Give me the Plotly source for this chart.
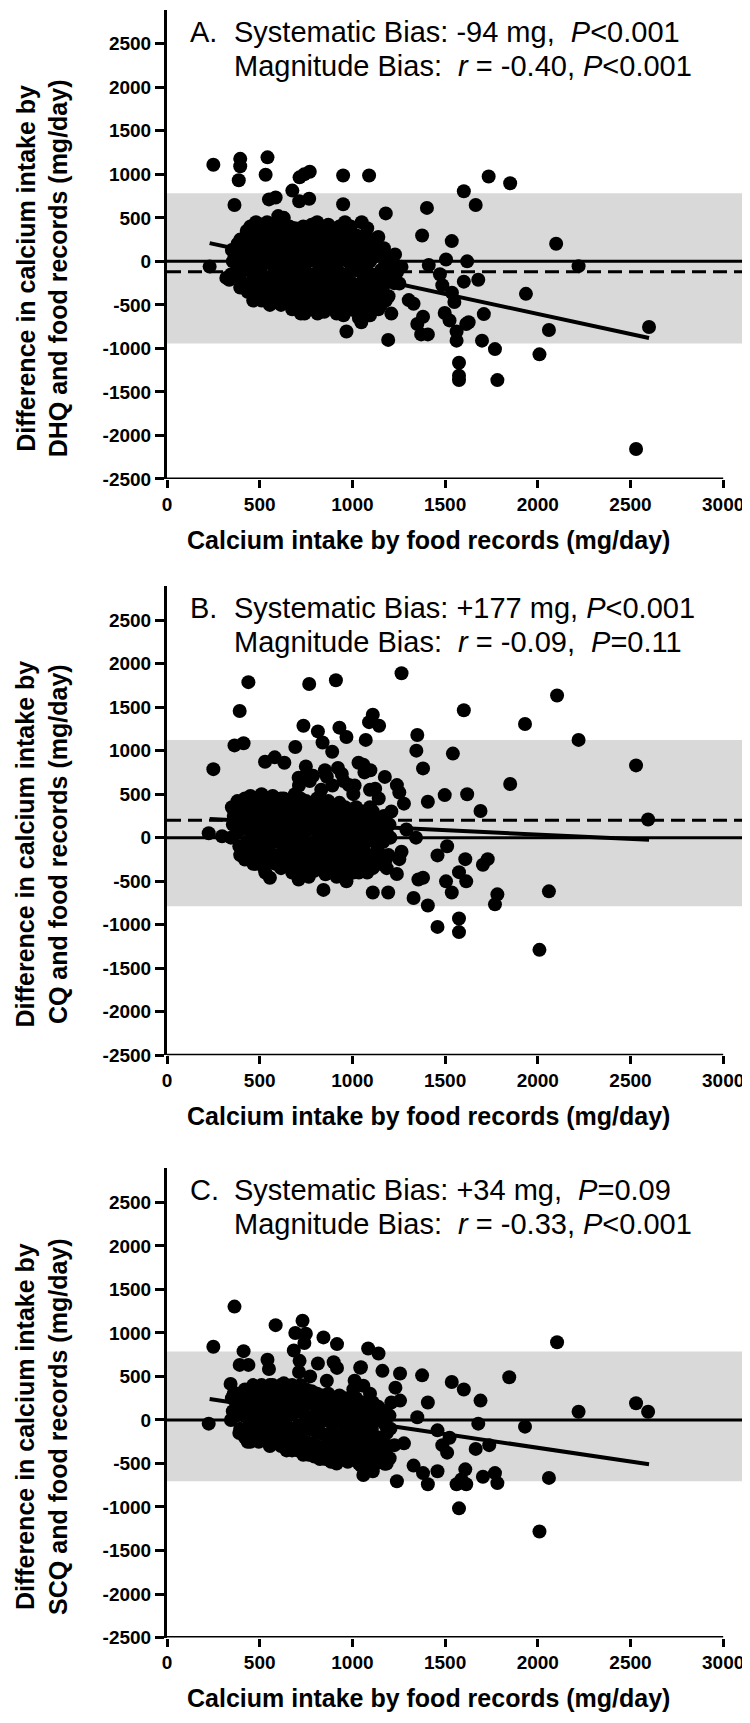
import plotly.graph_objects as go

# ---------------- data ----------------
x_ticks = [0, 500, 1000, 1500, 2000, 2500, 3000]
y_ticks = [-2500, -2000, -1500, -1000, -500, 0, 500, 1000, 1500, 2000, 2500]

panel_letters = ["A.", "B.", "C."]
line1_texts = ["Systematic Bias: -94 mg,\u00a0\u00a0<i>P</i>&lt;0.001",
               "Systematic Bias: +177 mg, <i>P</i>&lt;0.001",
               "Systematic Bias: +34 mg,\u00a0\u00a0<i>P</i>=0.09"]
line2_texts = ["Magnitude Bias:\u00a0 <i>r</i> = -0.40, <i>P</i>&lt;0.001",
               "Magnitude Bias:\u00a0 <i>r</i> = -0.09,\u00a0\u00a0<i>P</i>=0.11",
               "Magnitude Bias:\u00a0 <i>r</i> = -0.33, <i>P</i>&lt;0.001"]
y_titles = ["Difference in calcium intake by<br>DHQ and food records (mg/day)",
            "Difference in calcium intake by<br>CQ and food records (mg/day)",
            "Difference in calcium intake by<br>SCQ and food records (mg/day)"]
x_title = "Calcium intake by food records (mg/day)"

# limits of agreement (band), mean difference (dashed), regression line ends
band_low = [-945, -787, -705]
band_high = [784, 1123, 786]
mean_diff = [-120, 200, None]
reg_x = [[230, 2600], [230, 2600], [230, 2600]]
reg_y = [[210, -880], [215, -25], [240, -510]]

A_points = [
    (250, 1110), (395, 1178), (395, 1093), (387, 932), (364, 648), (542, 1195), (532, 996),
    (550, 712), (586, 733), (676, 813), (740, 1000), (770, 1030), (715, 965), (713, 690),
    (767, 720), (950, 987), (1090, 987), (950, 657), (1180, 551), (968, -805), (1193, -902),
    (1330, -487), (1350, -720), (1371, -839), (1407, -839), (1381, -636), (1402, 614),
    (1376, 297), (1412, -42), (1505, 21), (1536, 233), (1601, 805), (1665, 648), (1735, 975),
    (1851, 898), (2099, 203), (2220, -55), (1936, -373), (2060, -788), (2009, -1068),
    (1769, -1008), (1782, -1364), (1575, -1165), (1575, -1313), (1575, -1364), (1562, -911),
    (1699, -911), (1709, -606), (1614, -720), (1627, -699), (1601, -233), (1619, 0),
    (1679, -212), (1550, -466), (1537, -360), (1485, -275), (1472, -148), (1498, -593),
    (1524, -678), (1562, -805), (2600, -754), (2530, -2155), (1240, -127), (1253, -254),
    (1304, -445), (1265, -63), (1200, 0), (1227, -42), (230, -60), (320, -190), (336, -212),
    (350, 130), (355, 0), (345, -150), (365, 60),
    (380, 200), (385, -50), (375, 100), (390, -180),
    (420, 250), (415, 50), (425, -100), (430, 350), (410, -250), (435, 150),
    (450, 400), (455, 300), (445, 100), (460, -50), (450, -300), (465, -200), (440, 200),
    (480, 450), (485, 250), (475, 0), (490, -150), (480, -350), (495, -400), (470, 120),
    (510, 350), (515, 180), (505, -80), (520, -250), (510, -450), (500, 60), (525, 280),
    (540, 450), (545, 200), (535, -20), (550, -300), (540, -400), (555, 100), (530, 320), (548, -180),
    (570, 400), (575, 250), (565, 50), (580, -150), (570, -350), (585, -450), (560, 150), (578, -60),
    (600, 520), (605, 300), (595, 100), (610, -100), (600, -300), (615, -500), (590, 200), (608, -220), (602, 0),
    (630, 500), (635, 350), (625, 150), (640, -50), (630, -250), (645, -420), (620, 60), (638, -320),
    (660, 400), (665, 250), (655, 0), (670, -200), (660, -400), (675, -550), (650, 120), (668, -120),
    (690, 380), (695, 180), (685, -50), (700, -280), (690, -450), (705, 300), (680, -180), (698, 60),
    (720, 350), (725, 220), (715, 0), (730, -200), (720, -350), (735, -520), (710, 120), (728, -100), (722, -600),
    (750, 300), (755, 100), (745, -100), (760, -300), (750, -480), (765, 200), (742, -600), (758, 0),
    (780, 420), (785, 250), (775, 50), (790, -150), (780, -380), (795, -550), (770, 150), (788, -250),
    (810, 450), (815, 300), (805, 100), (820, -120), (810, -320), (825, -500), (800, 0), (818, -220), (812, -600),
    (840, 380), (845, 200), (835, -50), (850, -280), (840, -450), (855, 100), (830, -150), (848, -580),
    (870, 420), (875, 300), (865, 120), (880, -100), (870, -300), (885, -500), (860, 0),
    (900, 350), (905, 150), (895, -50), (910, -250), (900, -420), (915, -600), (890, 250),
    (930, 400), (935, 200), (925, 0), (940, -200), (930, -380), (945, -550), (920, -100),
    (960, 450), (965, 250), (955, 50), (970, -150), (960, -320), (975, -480), (952, -620),
    (990, 400), (995, 200), (985, -20), (1000, -250), (990, -400), (1005, -560),
    (1020, 300), (1025, 100), (1015, -100), (1030, -300), (1020, -450), (1035, -650),
    (1050, 450), (1055, 250), (1045, 0), (1060, -200), (1050, -380), (1065, -550), (1048, -700),
    (1080, 380), (1085, 150), (1075, -80), (1090, -280), (1080, -450), (1095, -620),
    (1110, 250), (1115, 50), (1105, -150), (1120, -350), (1110, -500),
    (1140, 280), (1145, 100), (1135, -200), (1150, -400), (1140, -550),
    (1170, 150), (1175, -50), (1165, -300), (1180, -450),
    (1200, 50), (1205, -150), (1195, -400), (1210, -600),
    (1230, 80), (1235, -100), (1225, -250),
    (395, -300), (395, 250), (435, -350), (435, 0), (465, 350), (465, -450), (495, 100),
    (495, -250), (525, -350), (525, 0), (555, -500), (555, 350), (585, 300), (585, -250),
    (615, 400), (615, -400), (645, 250), (645, -150), (675, 300), (675, -350), (705, -400),
    (705, 100), (735, 400), (735, -300), (765, -200), (765, 350), (795, -450), (795, 300),
    (825, 200), (825, -400), (855, -350), (855, 300), (885, 200), (885, -200), (915, 50),
    (915, -350), (945, 300), (945, -450), (975, 100), (975, -250), (1005, 300), (1005, -350),
    (1035, 200), (1035, -500), (1065, 100), (1065, -300), (1095, 0), (1095, -400),
    (1125, -250), (1125, 150), (1155, -100), (1155, -500), (1185, -200), (1185, 0),
]

B_points = [
    (250, 787), (225, 51), (297, 17), (364, 1060), (413, 1085), (392, 1455), (439, 1787),
    (767, 1766), (911, 1808), (1265, 1889), (736, 1285), (814, 1221), (930, 1264), (968, 1157),
    (1110, 1413), (1144, 1285), (1090, 1327), (1072, 1123), (692, 1042), (839, 1094),
    (1350, 1179), (1345, 1000), (1381, 796), (1601, 1464), (1931, 1306), (2104, 1634),
    (2220, 1123), (2530, 830), (2595, 208), (1851, 617), (1691, 306), (1619, 498), (1498, 489),
    (1542, 966), (1407, 413), (1343, 0), (1575, -928), (1575, -1085), (1459, -1025),
    (1407, -779), (1330, -694), (2009, -1289), (2060, -617), (1769, -766), (1782, -651),
    (1704, -311), (1730, -247), (1609, -247), (1614, -502), (1575, -396), (1536, -630),
    (1505, -502), (1459, -204), (1511, -98), (1381, -460), (1356, -481), (1193, -630),
    (1110, -630), (844, -600), (968, -502), (555, -460), (710, -481), (1240, -417),
    (1253, -247), (1265, -162), (1291, 94), (1278, 391), (1240, 604), (1253, 519), (1175, 698),
    (1123, 562), (1097, 774), (1059, 838), (529, 872), (581, 923), (633, 860), (710, 689),
    (749, 817), (788, 711), (852, 774), (891, 987), (943, 732), (981, 604), (1033, 860),
    (350, 350), (355, 150), (345, 0), (360, 250),
    (380, 420), (385, 200), (375, 50), (390, -100), (372, 300),
    (420, 450), (425, 300), (415, 100), (430, -50), (420, -250), (435, 200),
    (450, 480), (455, 350), (445, 150), (460, 0), (450, -200), (465, -300), (440, 250),
    (480, 420), (485, 250), (475, 100), (490, -100), (480, -300), (495, 380),
    (510, 500), (515, 300), (505, 150), (520, 0), (510, -150), (525, -350), (500, 220),
    (540, 450), (545, 320), (535, 180), (550, 50), (540, -100), (555, -250), (530, -400),
    (570, 480), (575, 280), (565, 120), (580, -50), (570, -200), (585, 380),
    (600, 400), (605, 250), (595, 100), (610, -50), (600, -200), (615, -350), (590, 320), (608, 0),
    (630, 450), (635, 300), (625, 150), (640, 0), (630, -150), (645, -300), (620, 220),
    (660, 420), (665, 280), (655, 100), (670, -80), (660, -250), (675, -400), (650, 350),
    (690, 500), (695, 350), (685, 180), (700, 30), (690, -120), (705, -300),
    (720, 450), (725, 300), (715, 150), (730, 0), (720, -150), (735, -350), (712, 600),
    (750, 420), (755, 250), (745, 80), (760, -80), (750, -250), (765, -450), (742, 700),
    (780, 400), (785, 250), (775, 100), (790, -50), (780, -200), (795, -380), (770, 650),
    (810, 450), (815, 300), (805, 150), (820, 0), (810, -150), (825, -300),
    (840, 380), (845, 220), (835, 80), (850, -100), (840, -250), (855, -420), (832, 550),
    (870, 420), (875, 280), (865, 120), (880, -30), (870, -200), (885, -350), (862, 700),
    (900, 350), (905, 200), (895, 50), (910, -120), (900, -280), (915, -450), (892, 600),
    (930, 400), (935, 250), (925, 100), (940, -50), (930, -220), (945, -380), (922, 800),
    (960, 350), (965, 200), (955, 50), (970, -100), (960, -250), (975, -400), (952, 650),
    (990, 300), (995, 150), (985, 0), (1000, -150), (990, -300), (1005, 500),
    (1020, 350), (1025, 200), (1015, 50), (1030, -100), (1020, -250), (1035, -400), (1012, 600),
    (1050, 300), (1055, 150), (1045, 0), (1060, -150), (1050, -350), (1065, 750),
    (1080, 250), (1085, 100), (1075, -50), (1090, -200), (1080, -400), (1095, 550),
    (1110, 300), (1115, 150), (1105, 0), (1120, -200), (1110, -350),
    (1140, 200), (1145, 50), (1135, -100), (1150, -300), (1142, 450),
    (1170, 250), (1175, 100), (1165, -50), (1180, -250),
    (1200, 150), (1205, 0), (1195, -200), (1210, 300),
    (395, 300), (395, -200), (435, 400), (435, -150), (465, 50), (465, 450), (495, -200),
    (495, 150), (525, 400), (525, -250), (555, 350), (555, -50), (585, 200), (585, -300),
    (615, 450), (615, -250), (645, 350), (645, -200), (675, 200), (675, -300), (705, 400),
    (705, -200), (735, 350), (735, -250), (765, 300), (765, -350), (795, 200), (795, -300),
    (825, 400), (825, -200), (855, 300), (855, -300), (885, 350), (885, -100), (915, 300),
    (915, -300), (945, 150), (945, -300), (975, 300), (975, -200), (1005, 200), (1005, -400),
    (1035, 250), (1035, -300), (1065, 200), (1065, -250), (1095, 350), (1095, -300),
    (1125, 50), (1125, -300), (1155, 150), (1155, -200), (1185, 50), (1185, -350),
]

C_points = [
    (250, 841), (225, -43), (364, 1302), (413, 790), (392, 632), (439, 632), (343, 414),
    (586, 1089), (542, 692), (550, 585), (684, 798), (692, 999), (731, 1140), (749, 990),
    (741, 884), (715, 679), (844, 948), (917, 871), (814, 649), (899, 662), (917, 598),
    (1085, 820), (1141, 764), (1046, 606), (1059, 393), (1162, 564), (1257, 534), (1232, 371),
    (1257, 222), (1376, 512), (1407, 201), (1350, 30), (1330, -525), (1240, -705),
    (1381, -611), (1407, -739), (1459, -589), (1536, 436), (1601, 350), (1691, 222),
    (1679, -43), (1665, -333), (1704, -653), (1769, -611), (1782, -726), (1738, -290),
    (1575, -1016), (1562, -739), (1588, -683), (1614, -739), (1609, -568), (1511, -376),
    (1485, -290), (1459, -120), (1524, -205), (1846, 491), (1931, -77), (2060, -666),
    (2009, -1281), (2104, 892), (2220, 94), (2530, 192), (2595, 94), (1110, -589),
    (1059, -632), (1046, -525), (1175, -504), (1201, -440), (1227, -290), (1278, -269),
    (350, 250), (355, 100), (345, 0), (360, 300),
    (380, 300), (385, 150), (375, 50), (390, -150), (372, 200),
    (420, 350), (425, 200), (415, 50), (430, -100), (420, -200), (435, 250),
    (450, 300), (455, 150), (445, 0), (460, -150), (450, -250), (465, 400),
    (480, 350), (485, 200), (475, 50), (490, -100), (480, -200), (495, 280),
    (510, 400), (515, 250), (505, 100), (520, -50), (510, -200), (525, 150),
    (540, 350), (545, 200), (535, 50), (550, -100), (540, -250), (555, 300),
    (570, 400), (575, 250), (565, 100), (580, -50), (570, -200), (585, 0),
    (600, 380), (605, 220), (595, 80), (610, -80), (600, -220), (615, 300),
    (630, 420), (635, 250), (625, 100), (640, -50), (630, -200), (645, -300),
    (660, 350), (665, 200), (655, 50), (670, -100), (660, -250), (675, 400),
    (690, 380), (695, 230), (685, 80), (700, -80), (690, -230), (705, -350),
    (720, 400), (725, 250), (715, 100), (730, -50), (720, -200), (735, -350), (712, 550),
    (750, 350), (755, 200), (745, 50), (760, -100), (750, -250), (765, -400),
    (780, 330), (785, 180), (775, 30), (790, -120), (780, -270), (795, -420), (772, 500),
    (810, 300), (815, 150), (805, 0), (820, -150), (810, -300), (825, -450),
    (840, 280), (845, 130), (835, -20), (850, -170), (840, -320), (855, -450),
    (870, 300), (875, 150), (865, 0), (880, -150), (870, -300), (885, -480), (862, 450),
    (900, 250), (905, 100), (895, -50), (910, -200), (900, -350), (915, -500),
    (930, 280), (935, 130), (925, -20), (940, -170), (930, -320), (945, -450),
    (960, 250), (965, 100), (955, -50), (970, -200), (960, -350), (975, -480),
    (990, 200), (995, 50), (985, -100), (1000, -250), (990, -400), (1005, 350),
    (1020, 250), (1025, 100), (1015, -50), (1030, -200), (1020, -350), (1035, -500), (1012, 450),
    (1050, 200), (1055, 50), (1045, -100), (1060, -250), (1050, -400), (1065, -550), (1042, 600),
    (1080, 150), (1085, 0), (1075, -150), (1090, -300), (1080, -450), (1095, 300),
    (1110, 200), (1115, 50), (1105, -100), (1120, -250), (1110, -400),
    (1140, 150), (1145, 0), (1135, -200), (1150, -350),
    (1170, 100), (1175, -50), (1165, -250), (1180, -400),
    (1200, 50), (1205, -100), (1195, -300), (1210, 200),
    (395, 250), (395, -100), (435, 300), (435, -250), (465, 200), (465, -50), (495, 350),
    (495, -250), (525, 300), (525, -150), (555, 400), (555, -300), (585, 350), (585, -250),
    (615, 400), (615, -300), (645, 350), (645, -350), (675, 300), (675, -350), (705, 350),
    (705, -150), (735, 300), (735, -400), (765, 300), (765, -300), (795, 250), (795, -350),
    (825, 250), (825, -400), (855, 200), (855, -350), (885, 250), (885, -400), (915, 150),
    (915, -400), (945, 200), (945, -300), (975, 150), (975, -400), (1005, 150), (1005, -450),
    (1035, 150), (1035, -400), (1065, 100), (1065, -450), (1095, 100), (1095, -500),
    (1125, 100), (1125, -500), (1155, 50), (1155, -450), (1185, -150), (1185, -500),
]

all_points = [A_points, B_points, C_points]

# ---------------- layout geometry ----------------
W, H = 750, 1723
L, R = 159, 7
PLOT_W = W - L - R
X_MAX = 3150
Y_MIN, Y_MAX = -2500, 2890
PX_PER_Y = 438 / 5000.0
bottoms_px = [474, 1054, 1640]

FONT = "Arial, 'Liberation Sans', Helvetica, sans-serif"


def paper_x(px):
    return (px - L) / PLOT_W


def paper_y(py):
    return 1 - py / H


fig = go.Figure()
annotations = []
shapes = []

for i in range(3):
    n = "" if i == 0 else str(i + 1)
    xa, ya = "x" + n, "y" + n
    bottom = bottoms_px[i]
    top = bottom - (Y_MAX - Y_MIN) * PX_PER_Y
    y2500 = bottom - 438

    pts = all_points[i]
    xs = [p[0] for p in pts]
    ys = [p[1] for p in pts]

    # band of agreement limits
    shapes.append(dict(type="rect", xref=xa, yref=ya, x0=0, x1=X_MAX,
                       y0=band_low[i], y1=band_high[i], layer="below",
                       fillcolor="#d9d9d9", line=dict(width=0)))
    # x axis line (0..3000 only)
    shapes.append(dict(type="line", xref=xa, yref=ya, x0=0, x1=3000,
                       y0=Y_MIN, y1=Y_MIN, line=dict(color="black", width=3)))

    fig.add_trace(go.Scatter(x=xs, y=ys, mode="markers", xaxis=xa, yaxis=ya,
                             marker=dict(size=14, color="black", line=dict(width=0)),
                             showlegend=False, hoverinfo="skip"))
    fig.add_trace(go.Scatter(x=[0, X_MAX], y=[0, 0], mode="lines", xaxis=xa, yaxis=ya,
                             line=dict(color="black", width=3), showlegend=False))
    if mean_diff[i] is not None:
        fig.add_trace(go.Scatter(x=[0, X_MAX], y=[mean_diff[i], mean_diff[i]], mode="lines",
                                 xaxis=xa, yaxis=ya,
                                 line=dict(color="black", width=3, dash="14px,7px"),
                                 showlegend=False))
    fig.add_trace(go.Scatter(x=reg_x[i], y=reg_y[i], mode="lines", xaxis=xa, yaxis=ya,
                             line=dict(color="black", width=4), showlegend=False))

    tickfont = dict(family=FONT, size=19, color="black", weight="bold")
    fig.update_layout(**{
        "xaxis" + n: dict(domain=[0, 1], range=[0, X_MAX], anchor=ya,
                          tickmode="array", tickvals=x_ticks,
                          ticktext=[str(v) for v in x_ticks],
                          ticks="outside", ticklen=8, tickwidth=3, tickcolor="black",
                          showline=False, showgrid=False, zeroline=False,
                          tickfont=tickfont),
        "yaxis" + n: dict(domain=[paper_y(bottom), paper_y(top)], range=[Y_MIN, Y_MAX],
                          anchor=xa, tickmode="array", tickvals=y_ticks,
                          ticktext=[str(v) for v in y_ticks],
                          ticks="outside", ticklen=9, tickwidth=3, tickcolor="black",
                          showline=True, linewidth=3, linecolor="black",
                          showgrid=False, zeroline=False, tickfont=tickfont),
    })

    text_font = dict(family=FONT, size=29, color="black")
    annotations.append(dict(xref="paper", yref="paper", x=paper_x(180), y=paper_y(y2500 - 12),
                            text=panel_letters[i], showarrow=False, xanchor="left",
                            yanchor="middle", font=text_font))
    annotations.append(dict(xref="paper", yref="paper", x=paper_x(224), y=paper_y(y2500 - 12),
                            text=line1_texts[i], showarrow=False, xanchor="left",
                            yanchor="middle", font=text_font))
    annotations.append(dict(xref="paper", yref="paper", x=paper_x(224), y=paper_y(y2500 + 22),
                            text=line2_texts[i], showarrow=False, xanchor="left",
                            yanchor="middle", font=text_font))
    # axis titles
    title_font = dict(family=FONT, size=25, color="black", weight="bold")
    annotations.append(dict(xref="paper", yref="paper", x=paper_x(420), y=paper_y(bottom + 61),
                            text=x_title, showarrow=False, xanchor="center",
                            yanchor="middle", font=title_font))
    annotations.append(dict(xref="paper", yref="paper", x=paper_x(34), y=paper_y(y2500 + 226),
                            text=y_titles[i], showarrow=False, xanchor="center",
                            yanchor="middle", textangle=-90, font=title_font))

fig.update_layout(width=W, height=H, margin=dict(l=L, r=R, t=0, b=0),
                  paper_bgcolor="white", plot_bgcolor="white",
                  annotations=annotations, shapes=shapes, showlegend=False)

fig.write_html("out.html")
